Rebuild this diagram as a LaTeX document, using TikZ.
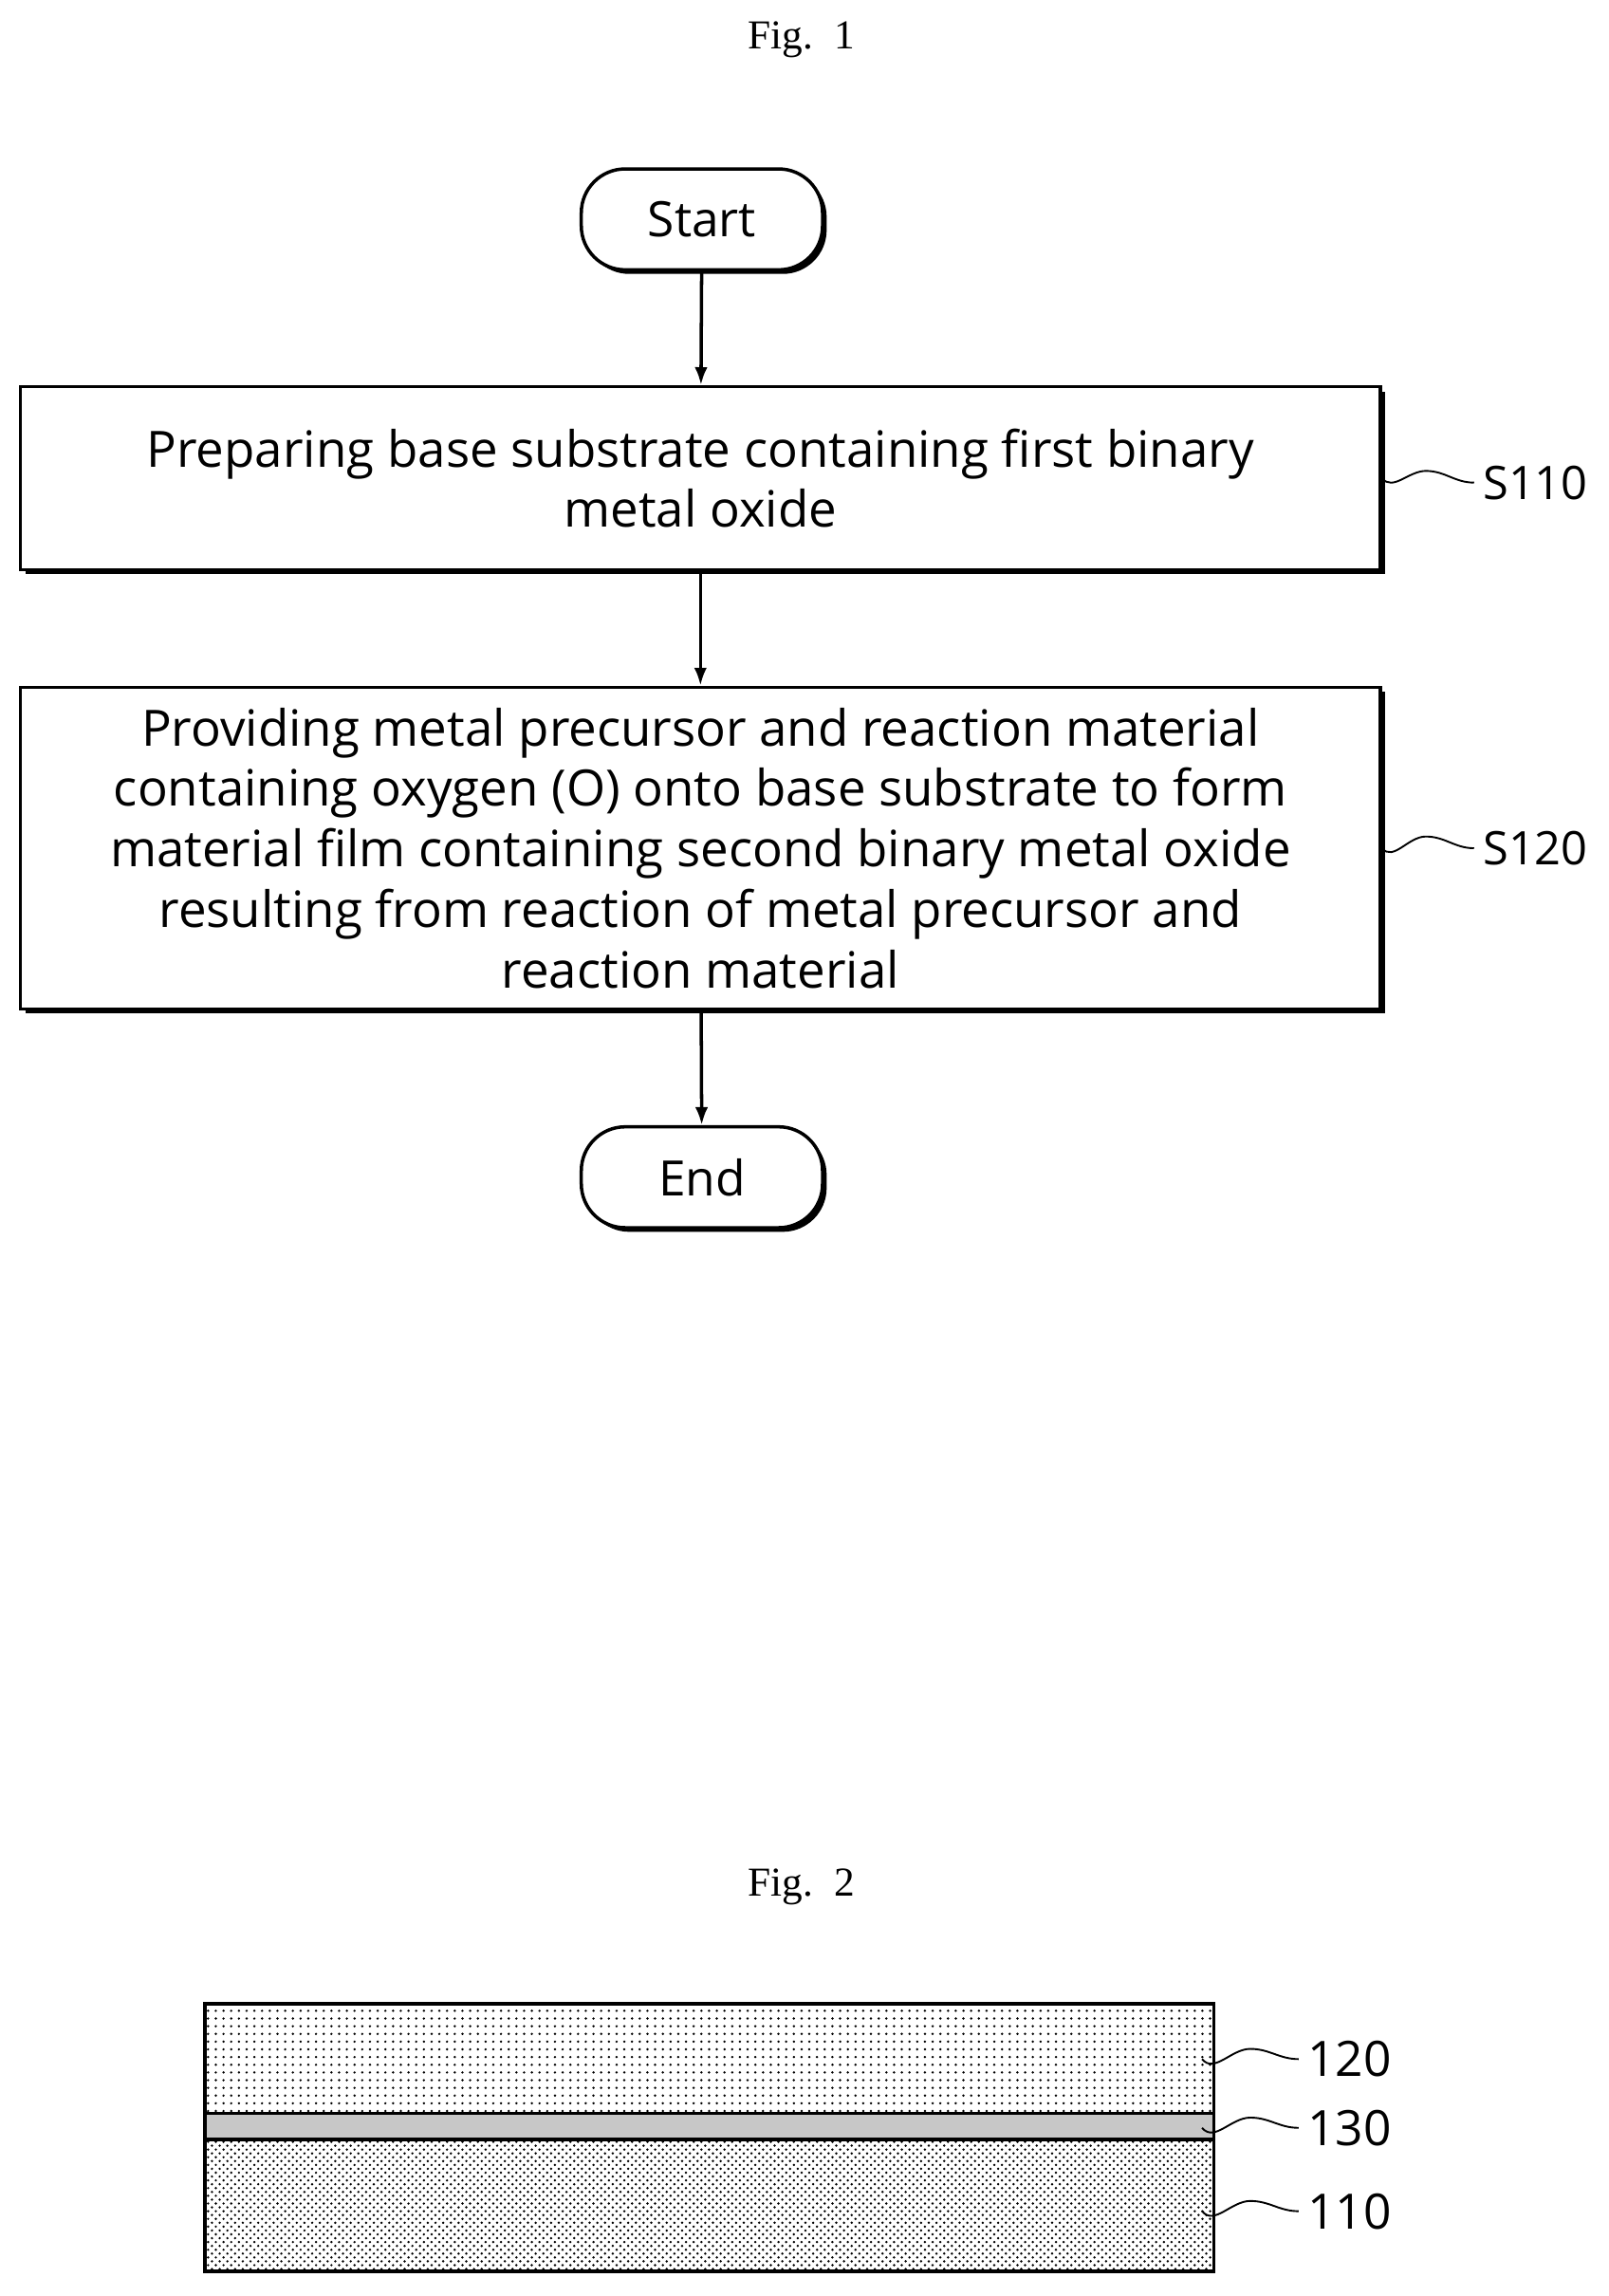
\documentclass[tikz,border=0pt]{standalone}
\usepackage{fontspec}
\setmainfont{Liberation Serif}
\newfontfamily\flowfont{Open Sans}
\usetikzlibrary{shadows,patterns,positioning,calc,arrows.meta}

\begin{document}
\begin{tikzpicture}[x=0.02cm,y=-0.02cm,
        box/.style={rectangle, draw, line width=1.3pt, fill=white, minimum width=18.6cm, align=center,
            font=\flowfont\fontsize{19.5}{23.6}\selectfont,
            drop shadow={shadow xshift=1.8pt, shadow yshift=-1.8pt, opacity=1, fill=black}},
        term/.style={rectangle, rounded corners=0.6cm, draw, line width=1.3pt, fill=white,
            minimum width=3.3cm, minimum height=1.38cm, font=\flowfont\fontsize{19}{20}\selectfont,
            drop shadow={shadow xshift=1.6pt, shadow yshift=-1.6pt, opacity=1, fill=black}},
        arrow/.style={-{Latex[length=7pt,width=5pt]}, line width=1.3pt},
        lead/.style={line width=0.7pt},
        tag/.style={font=\flowfont\fontsize{18}{20}\selectfont, anchor=west},
        layer/.style={draw, line width=1.3pt},
        fig/.style={font=\fontsize{16}{18}\selectfont}
    ]
        \useasboundingbox (0,0) rectangle (1100,1570);

        % Fig. 1
        \node[fig] (f1) at (548,27) {Fig.\ \ 1};
        \node[term] (start) at (480,150) {Start};
        \node[box, minimum height=2.5cm] (s110) at (479,327)
            {Preparing base substrate containing first binary\\metal oxide};
        \node[box, minimum height=4.4cm] (s120) at (479,580)
            {Providing metal precursor and reaction material\\containing oxygen (O) onto base substrate to form\\material film containing second binary metal oxide\\resulting from reaction of metal precursor and\\reaction material};
        \node[term] (end) at (480,805) {End};

        \draw[arrow] (start) -- (s110);
        \draw[arrow] (s110) -- (s120);
        \draw[arrow] (s120) -- (end);

        % step labels
        \node[tag] (l110) at (1008,330) {S110};
        \node[tag] (l120) at (1008,580) {S120};
        \draw[lead] (s110.east) to[out=-50,in=180] (975,322) to[out=0,in=180] (l110.west);
        \draw[lead] (s120.east) to[out=-50,in=180] (975,572) to[out=0,in=180] (l120.west);

        % Fig. 2
        \node[fig] (f2) at (548,1290) {Fig.\ \ 2};
        \draw[layer, pattern=dots] (140,1370) rectangle (830,1445);
        \draw[layer, fill=black!22] (140,1445) rectangle (830,1463);
        \draw[layer, pattern=crosshatch dots] (140,1463) rectangle (830,1553);

        \node[tag, font=\flowfont\fontsize{19}{20}\selectfont] (n120) at (888,1408) {120};
        \node[tag, font=\flowfont\fontsize{19}{20}\selectfont] (n130) at (888,1455) {130};
        \node[tag, font=\flowfont\fontsize{19}{20}\selectfont] (n110) at (888,1512) {110};
        \coordinate (p120) at (822,1408);
        \coordinate (p130) at (822,1455);
        \coordinate (p110) at (822,1512);
        \foreach \n in {120,130,110}
            \draw[lead] (p\n) to[out=-50,in=180] ($(p\n)!0.5!(n\n.west)+(0,-7)$) to[out=0,in=180] (n\n.west);
    \end{tikzpicture}
\end{document}
